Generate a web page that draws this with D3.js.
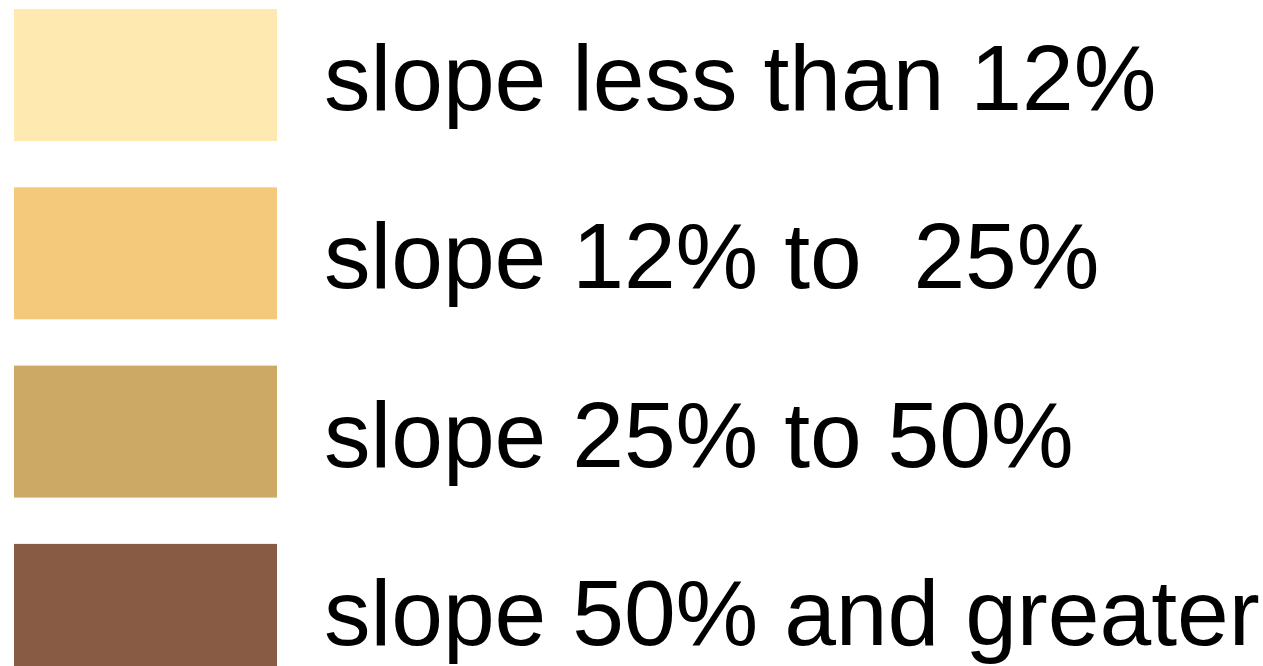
<!DOCTYPE html>
<html>
<head>
<meta charset="utf-8">
<script src="https://cdn.jsdelivr.net/npm/d3@7"></script>
<style>
  html, body { margin: 0; padding: 0; background: #fff; overflow: hidden; }
  text { white-space: pre; }
</style>
</head>
<body>
<div id="legend"></div>
<script>
const svgWidth = 1263;
const svgHeight = 666;

// legend entries
const classes = ["lt12", "12to25", "25to50", "50plus"];
const labels = ["slope less than 12%", "slope 12% to  25%", "slope 25% to 50%", "slope 50% and greater"];
const colors = ["#FEE9B0", "#F4C97C", "#CDA966", "#885B45"];

const rowStep = 178.3;
const swatchH = 132;

const svg = d3.select("#legend")
  .append("svg")
  .attr("width", svgWidth)
  .attr("height", svgHeight);

// band scale: step ~178px, swatch 132px tall
const yScale = d3.scaleBand()
  .domain(classes)
  .range([9, 9 + rowStep * (classes.length - 1) + swatchH])
  .paddingInner((rowStep - swatchH) / rowStep)
  .paddingOuter(0);

const colorScale = d3.scaleOrdinal()
  .domain(classes)
  .range(colors);

const rows = svg.selectAll("g.row")
  .data(classes)
  .enter()
  .append("g")
  .attr("class", "row")
  .attr("transform", d => `translate(0, ${yScale(d)})`);

rows.append("rect")
  .attr("x", 14)
  .attr("y", 0)
  .attr("width", 263)
  .attr("height", yScale.bandwidth())
  .attr("fill", d => colorScale(d));

rows.append("text")
  .attr("x", 324)
  .attr("y", 101)
  .attr("font-family", "Liberation Sans, Arial, sans-serif")
  .attr("font-size", "93px")
  .attr("fill", "#000")
  .text((d, i) => labels[i]);
</script>
</body>
</html>
